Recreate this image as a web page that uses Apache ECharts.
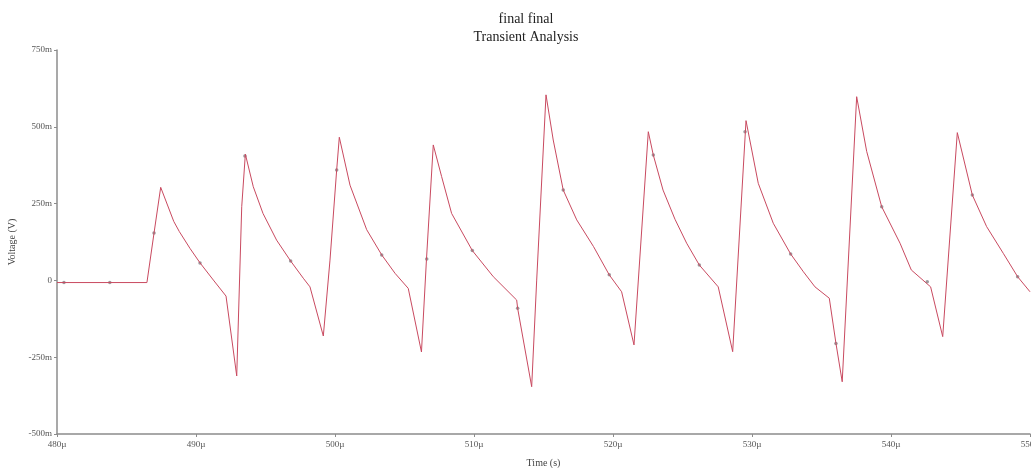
<!DOCTYPE html>
<html>
<head>
<meta charset="utf-8">
<script src="https://cdn.jsdelivr.net/npm/echarts@6/dist/echarts.min.js"></script>
<style>
html,body{margin:0;padding:0;background:#fff;}
#chart{width:1031px;height:468px;}
</style>
</head>
<body>
<div id="chart"></div>
<script>
// Time in µs, voltage in mV
const timeUs = [480.0, 486.47, 486.98, 487.46, 488.4, 488.8, 489.57, 490.29, 491.25, 492.16, 492.93, 493.29, 493.55, 494.12, 494.82, 495.8, 496.81, 497.72, 498.20, 499.16, 499.64, 500.12, 500.31, 501.08, 502.28, 503.36, 504.32, 505.27, 506.22, 506.58, 507.07, 507.67, 508.39, 509.88, 511.39, 513.07, 513.14, 514.15, 514.51, 515.18, 515.7, 516.42, 517.39, 518.6, 519.73, 520.62, 521.51, 522.54, 522.90, 523.6, 524.46, 525.3, 526.21, 527.57, 528.61, 529.57, 530.45, 531.53, 532.78, 533.7, 534.53, 535.56, 536.04, 536.49, 537.53, 538.25, 539.33, 540.65, 541.46, 542.85, 543.72, 544.77, 545.85, 546.88, 548.08, 549.11, 550.0];
const voltageMv = [-7, -7, 154, 303, 192, 159, 104, 57, 1, -51, -311, 240, 411, 305, 218, 131, 63, 7, -21, -181, 66, 359, 466, 310, 165, 83, 23, -26, -233, 68, 441, 338, 218, 97, 12, -64, -91, -346, 1, 604, 457, 294, 197, 110, 18, -37, -210, 484, 408, 294, 199, 121, 50, -21, -232, 520, 316, 186, 86, 28, -21, -58, -205, -330, 598, 420, 240, 121, 34, -21, -183, 481, 278, 175, 88, 12, -37];
const markerTimeUs = [480.5, 483.8, 486.98, 490.29, 493.52, 496.81, 500.12, 503.36, 506.6, 509.88, 513.14, 516.42, 519.73, 522.9, 526.21, 529.5, 532.78, 536.04, 539.33, 542.61, 545.85, 549.11];
const markerMv = [-7, -7, 154, 57, 405, 63, 359, 83, 70, 97, -91, 294, 18, 408, 50, 484, 86, -205, 240, -4, 278, 12];
const xTicks = [480, 490, 500, 510, 520, 530, 540, 550];
const yTicks = [-500, -250, 0, 250, 500, 750];
const titleLines = ['final final', 'Transient Analysis'];
const xName = 'Time (s)';
const yName = 'Voltage (V)';

const lineData = timeUs.map((t, i) => [t, voltageMv[i]]);
const markerData = markerTimeUs.map((t, i) => [t, markerMv[i]]);
const serif = 'Liberation Serif, Times New Roman, serif';

const chart = echarts.init(document.getElementById('chart'), null, {renderer: 'canvas'});
chart.setOption({
  backgroundColor: '#fff',
  animation: false,
  title: {
    text: titleLines.join('\n'),
    left: 521, top: 5, textAlign: 'center',
    textStyle: {fontFamily: serif, fontSize: 14, fontWeight: 'normal', color: '#222', lineHeight: 18}
  },
  grid: {left: 57, right: 1, top: 50, bottom: 34, containLabel: false, outerBoundsMode: 'none'},
  xAxis: {
    type: 'value', min: xTicks[0], max: xTicks[xTicks.length - 1], interval: 10,
    name: xName, nameLocation: 'middle', nameGap: 24,
    nameTextStyle: {fontFamily: serif, fontSize: 10, color: '#444'},
    axisLine: {show: true, onZero: false, lineStyle: {color: '#8c8c8c', width: 1.5}},
    axisTick: {show: true, length: 3, lineStyle: {color: '#8c8c8c'}},
    axisLabel: {fontFamily: serif, fontSize: 9, color: '#555', margin: 6, formatter: v => v + 'µ'},
    splitLine: {show: false}
  },
  yAxis: {
    type: 'value', min: yTicks[0], max: yTicks[yTicks.length - 1], interval: 250,
    name: yName, nameLocation: 'middle', nameGap: 35, nameRotate: 90,
    nameTextStyle: {fontFamily: serif, fontSize: 10, color: '#444'},
    axisLine: {show: true, onZero: false, lineStyle: {color: '#8c8c8c', width: 1.5}},
    axisTick: {show: true, length: 3, lineStyle: {color: '#8c8c8c'}},
    axisLabel: {fontFamily: serif, fontSize: 9, color: '#555', margin: 5, formatter: v => v === 0 ? '0' : v + 'm'},
    splitLine: {show: false}
  },
  series: [
    {
      type: 'line', data: lineData, showSymbol: false, smooth: false,
      lineStyle: {color: '#c94a60', width: 1}, itemStyle: {color: '#c94a60'}
    },
    {
      type: 'scatter', data: markerData, symbol: 'circle', symbolSize: 3.5,
      itemStyle: {color: '#858085'}
    }
  ]
});
</script>
</body>
</html>
